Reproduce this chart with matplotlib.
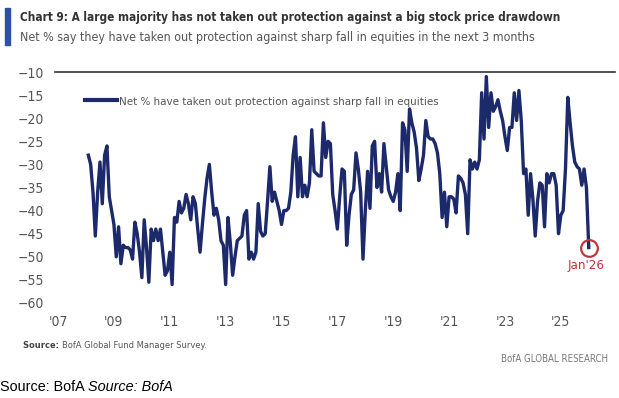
import numpy as np
import pandas as pd
import matplotlib
matplotlib.use("Agg")
import matplotlib.pyplot as plt
from matplotlib import font_manager
from matplotlib.patches import Rectangle

# pick a narrow face if one is installed, else plain Liberation Sans
fonts = font_manager.fontManager.ttflist
narrow = [f for f in fonts
          if "Narrow" in f.name or "Condensed" in f.name
          or f.stretch in ("condensed", "semi-condensed")]
if narrow:
    base_font, base_stretch = narrow[0].name, narrow[0].stretch
else:
    base_font, base_stretch = "Liberation Sans", "normal"
plt.rcParams["font.family"] = [base_font, "DejaVu Sans"]
plt.rcParams["font.stretch"] = base_stretch

navy = "#1c2a6b"
red = "#c0363c"
grey = "#555555"

# monthly values, Feb 2008 .. Jan 2026
net_protection = [
    -28, -30, -36, -45.5, -36, -29.5, -38.5, -28, -26, -37, -40, -43,
    -50, -43.5, -51.5, -47.5, -48, -48, -48.5, -50.5, -42.5, -45, -49, -54.5,
    -42, -48, -55.5, -44, -46.5, -44, -46.5, -44, -49, -54, -53, -49,
    -56, -41.5, -42.5, -38, -40.5, -39.5, -36.5, -38.5, -42, -37, -38.5, -44,
    -49, -43, -37.5, -33, -30, -36, -41, -39.5, -42, -46.5, -47.5, -56,
    -41.5, -47, -54, -50, -46.5, -46, -45.5, -41, -40, -50.5, -49, -50.5,
    -49, -38.5, -44.5, -45.5, -45, -38, -30.5, -38, -36, -38, -40, -43,
    -40, -40, -39.5, -36, -28, -24, -37, -28.5, -37, -34.5, -37, -34,
    -22.5, -31.5, -32, -32.5, -32.5, -21, -28.5, -25, -25.5, -36.5, -40, -44,
    -37, -31, -31.5, -47.5, -41, -36.5, -35.5, -27.5, -31, -36, -50.5, -40,
    -31.5, -39.5, -26, -25, -35, -32, -36, -25.5, -30.5, -35.5, -37, -38,
    -36, -32, -40, -21, -22.5, -31.5, -18, -21, -23, -26.5, -33.5, -31,
    -28, -20.5, -24, -24.5, -24.5, -25.5, -27.5, -32, -41.5, -36, -43.5, -37,
    -37, -37.5, -40.5, -32.5, -33, -34, -36.5, -45, -29, -31, -29.5, -31,
    -29, -14.5, -24.5, -11, -22, -14.5, -18.5, -17.5, -16, -18.5, -20.5, -24,
    -27, -22, -22, -14.5, -20.5, -14, -20.5, -32, -31, -41, -32, -37.5,
    -45.5, -38, -34, -34.5, -43.5, -32, -34, -32, -32, -34.5, -45, -41,
    -40, -31, -15.5, -21, -26, -29.5, -30.5, -31, -34.5, -31, -35, -48,
]
dates = pd.date_range("2008-02-01", periods=len(net_protection), freq="MS")
t = dates.year + (dates.month - 1) / 12

tick_years = list(range(2007, 2026, 2))
tick_labels = ["'%02d" % (y % 100) for y in tick_years]
y_ticks = list(range(-60, -5, 5))

title = "Chart 9: A large majority has not taken out protection against a big stock price drawdown"
subtitle = "Net % say they have taken out protection against sharp fall in equities in the next 3 months"
legend_label = "Net % have taken out protection against sharp fall in equities"

W, H = 619, 398
fig = plt.figure(figsize=(W / 100, H / 100), dpi=100)
renderer = fig.canvas.get_renderer()


def fx(px):
    return px / W


def fy(py):
    return 1 - py / H


def width_px(parts):
    return sum(p.get_window_extent(renderer).width for p in parts)


def fit(parts, target, x0):
    # scale the font so that the run of texts spans the target pixel width
    for _ in range(2):
        scale = target / width_px(parts)
        for p in parts:
            p.set_fontsize(p.get_fontsize() * scale)
    x = x0
    for p in parts:
        p.set_x(fx(x))
        x += p.get_window_extent(renderer).width


ax = fig.add_axes([fx(55), fy(303), fx(560), 231 / H])

ax.plot(t, net_protection, color=navy, lw=2.4, solid_joinstyle="round",
        label=legend_label)

# highlight the latest reading
ax.plot(t[-1], net_protection[-1], "o", ms=12, mfc="none", mec=red, mew=1.6)
ax.annotate("Jan'26", (t[-1], net_protection[-1]), xytext=(-2, -8),
            textcoords="offset points", ha="center", va="top",
            color=red, fontsize=9.5)

ax.set_xlim(2006.89, 2026.94)
ax.set_ylim(-60, -10)
ax.set_xticks(tick_years)
ax.set_xticklabels(tick_labels)
ax.set_yticks(y_ticks)
ax.tick_params(length=0, labelsize=10, labelcolor=grey)
ax.tick_params(axis="y", pad=8)
ax.tick_params(axis="x", pad=9)
for side in ["left", "right", "bottom"]:
    ax.spines[side].set_visible(False)
ax.spines["top"].set_color("#333333")
ax.spines["top"].set_linewidth(1.2)

leg = ax.legend(loc="center left", bbox_to_anchor=(0.054, 0.874), frameon=False,
                borderpad=0, borderaxespad=0, handlelength=2.3,
                handletextpad=0.15, fontsize=10)
for txt in leg.get_texts():
    txt.set_color(grey)
leg.get_lines()[0].set_linewidth(3)
lt = leg.get_texts()[0]
lt.set_fontsize(lt.get_fontsize() * 318 / lt.get_window_extent(renderer).width)

# header
fig.patches.append(Rectangle((fx(5), fy(45)), fx(5), 37 / H,
                             transform=fig.transFigure, color="#2d4fa5"))
t1 = fig.text(0, fy(17), title, fontsize=10.5, fontweight="bold",
              color="#333333", va="center")
fit([t1], 540, 20)
t2 = fig.text(0, fy(37), subtitle, fontsize=10.5, color="#555555", va="center")
fit([t2], 514, 20)

# footer
s1 = fig.text(0, fy(346), "Source: ", fontsize=7.5, fontweight="bold",
              color="#444444", va="center")
s2 = fig.text(0, fy(346), "BofA Global Fund Manager Survey.", fontsize=7.5,
              color="#555555", va="center")
fit([s1, s2], 183, 23)
brand = fig.text(fx(608), fy(359), "BofA GLOBAL RESEARCH", fontsize=7.5,
                 color="#777777", ha="right", va="center")
brand.set_fontsize(7.5 * 105 / brand.get_window_extent(renderer).width)
b1 = fig.text(0, fy(387), "Source: BofA ", fontsize=10.5, color="black",
              va="center", family=["Liberation Sans", "DejaVu Sans"],
              stretch="normal")
b2 = fig.text(0, fy(387), "Source: BofA", fontsize=10.5, color="black",
              va="center", style="italic",
              family=["Liberation Sans", "DejaVu Sans"], stretch="normal")
fit([b1, b2], 173, 0)

fig.savefig("out.png", dpi=100)
